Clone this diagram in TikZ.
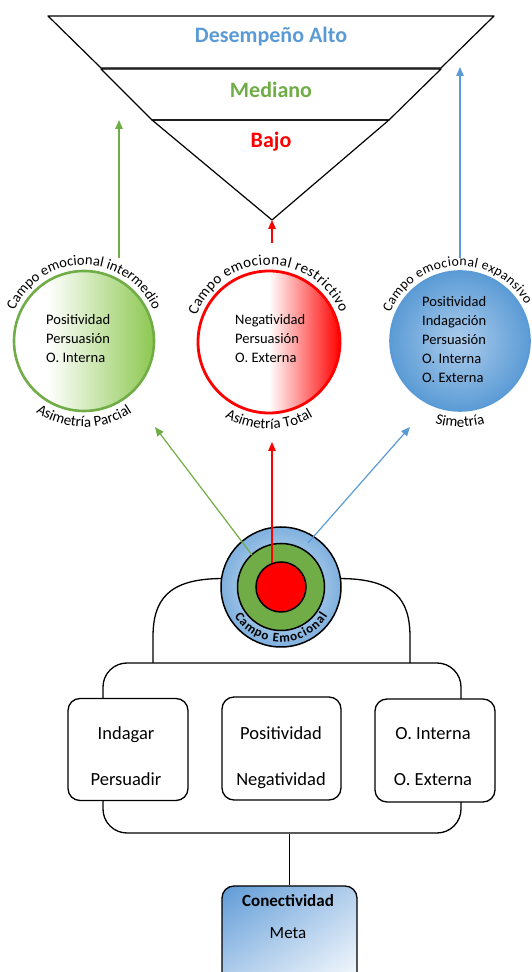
\documentclass[tikz,border=0pt]{standalone}
\usepackage{fontspec}
\setmainfont{Carlito}
\usetikzlibrary{arrows.meta,decorations.text,shadings}
\definecolor{blueM}{HTML}{5B9BD5}
\definecolor{blueL}{HTML}{ADCDEC}
\definecolor{grn}{HTML}{70AD47}
\definecolor{grnR}{HTML}{8CC850}
\definecolor{redR}{HTML}{FF0000}
\definecolor{ringIn}{HTML}{DCEBF8}
\definecolor{ringOut}{HTML}{7FB0DE}
\definecolor{connUL}{HTML}{5E9AD6}
\definecolor{connUR}{HTML}{B3CFEC}
\definecolor{connLL}{HTML}{BCD5F0}
\definecolor{connLR}{HTML}{FFFFFF}
\pgfdeclarehorizontalshading{greenfade}{100bp}{color(0bp)=(white); color(37bp)=(white); color(75bp)=(grnR); color(100bp)=(grnR)}
\pgfdeclarehorizontalshading{redfade}{100bp}{color(0bp)=(white); color(50bp)=(white); color(75bp)=(redR); color(100bp)=(redR)}
\begin{document}
\begin{tikzpicture}[x=1pt,y=1pt,
  fun/.style={draw=black,line width=1.2pt,line join=round},
  lvl/.style={font=\fontsize{22}{26}\selectfont\bfseries,anchor=base,inner sep=0pt},
  ctxt/.style={anchor=west,align=left,inner sep=0pt,font=\fontsize{14.5}{19}\selectfont},
  boxn/.style={draw=black,line width=1.3pt,rounded corners=12pt,fill=white,minimum width=120pt,minimum height=102pt,inner sep=0pt},
  btxt/.style={anchor=base,inner sep=0pt,font=\fontsize{18.5}{22}\selectfont},
  arr/.style={line width=1.2pt,-{Triangle[width=7.5pt,length=9pt]}},
  toptext/.style={decorate,decoration={text along path,text align={fit to path},text={#1}}},
  bottext/.style={decorate,decoration={text along path,text align=center,text={#1}}},
  conn/.style={line width=1.3pt,draw=black}
]
\useasboundingbox (0,0) rectangle (532,972);
\clip (0,0) rectangle (532,972);

% funnel
\draw[fun] (48,956) -- (494,956) -- (441,904) -- (101,904) -- cycle;
\draw[fun] (101,903) -- (441,903) -- (389,852) -- (152,852) -- cycle;
\draw[fun] (152,852) -- (389,852) -- (272,752) -- cycle;
\coordinate (apex) at (272,752);
\node[lvl,text=blueM] (alto) at (271,929) {Desempeño Alto};
\node[lvl,text=grn] (med) at (271,874) {Mediano};
\node[lvl,text=redR] (bajo) at (271,824) {Bajo};

% three circles
\node[circle,minimum size=140pt,line width=2.6pt,draw=grn,shade,shading=greenfade] (gc) at (84,631) {};
\node[circle,minimum size=142pt,line width=2.8pt,draw=redR,shade,shading=redfade] (rc) at (269,630) {};
\node[circle,minimum size=140pt,line width=1.6pt,draw=blueM,inner color=blueL,outer color=blueM] (bc) at (460,631) {};

\node[ctxt] (gtx) at (46,633.5) {Positividad\\Persuasión\\O. Interna};
\node[ctxt] (rtx) at (235,633.5) {Negatividad\\Persuasión\\O. Externa};
\node[ctxt] (btx) at (422,632) {Positividad\\Indagación\\Persuasión\\O. Interna\\O. Externa};

\path[toptext={|\fontsize{14.5}{18}\selectfont|Campo emocional intermedio}] ([shift={(156:76)}]gc.center) arc[start angle=156,end angle=24,radius=76];
\path[toptext={|\fontsize{15}{18}\selectfont|Campo emocional restrictivo}] ([shift={(160:77)}]rc.center) arc[start angle=160,end angle=22,radius=77];
\path[toptext={|\fontsize{13.8}{17}\selectfont|Campo emocional expansivo}] ([shift={(158:75)}]bc.center) arc[start angle=158,end angle=29,radius=75];

\path[bottext={|\fontsize{15}{18}\selectfont|Asimetría Parcial}] ([shift={(210:86)}]gc.center) arc[start angle=210,end angle=330,radius=86];
\path[bottext={|\fontsize{15}{18}\selectfont|Asimetría Total}] ([shift={(210:87)}]rc.center) arc[start angle=210,end angle=330,radius=87];
\path[bottext={|\fontsize{15}{18}\selectfont|Simetría}] ([shift={(230:86)}]bc.center) arc[start angle=230,end angle=310,radius=86];

% upper arrows
\coordinate (gup) at (119,714); \coordinate (gtip) at (119,852);
\coordinate (rup) at (272,729);
\coordinate (bup) at (460,714); \coordinate (btip) at (460,905);
\draw[arr,grn] (gup) -- (gtip);
\draw[arr,redR] (rup) -- (apex);
\draw[arr,blueM] (bup) -- (btip);

% frame and curves
\node[draw,line width=1.3pt,rounded corners=24pt,minimum width=358pt,minimum height=170pt] (frame) at (282,224) {};
\coordinate (lc) at (153,309); \coordinate (rcc) at (410,309);

% center target
\node[circle,minimum size=120pt,line width=1.5pt,draw=black,inner color=ringIn,outer color=ringOut] (cc) at (281,385) {};
\node[circle,minimum size=87pt,line width=1.5pt,draw=black,fill=grn] (cg) at (281,385) {};
\node[circle,minimum size=50pt,line width=1.5pt,draw=black,fill=redR] (cr) at (281,385) {};
\path[toptext={|\fontsize{13}{15}\selectfont\bfseries|Campo Emocional}] ([shift={(212:55)}]cc.center) arc[start angle=212,end angle=328,radius=55];

\draw[conn] (cc.172) .. controls (168,393) and (153,372) .. (153,335) -- (lc);
\draw[conn] (cc.8) .. controls (395,393) and (410,372) .. (410,335) -- (rcc);

% lower arrows
\coordinate (gt) at (252,417); \coordinate (gh) at (155,545);
\coordinate (rt) at (272,409); \coordinate (rh) at (272,530);
\coordinate (bt) at (308,429); \coordinate (bh) at (410,545);
\draw[arr,grn] (gt) -- (gh);
\draw[arr,redR] (rt) -- (rh);
\draw[arr,blueM] (bt) -- (bh);

% boxes
\node[boxn] (b1) at (128,222.5) {};
\node[boxn,minimum width=119pt,minimum height=103pt] (b2) at (281.5,223.5) {};
\node[boxn,minimum height=103pt] (b3) at (435,221.5) {};
\node[btxt] (t1a) at (126,232) {Indagar};
\node[btxt] (t1b) at (126,186) {Persuadir};
\node[btxt] (t2a) at (281,232) {Positividad};
\node[btxt] (t2b) at (281,186) {Negatividad};
\node[btxt] (t3a) at (433,232) {O. Interna};
\node[btxt] (t3b) at (433,186) {O. Externa};

% conectividad
\node[draw,line width=1.3pt,rounded corners=12pt,minimum width=135pt,minimum height=106pt,upper left=connUL,upper right=connUR,lower left=connLL,lower right=connLR] (cn) at (289.5,33) {};
\draw[conn] (cn.north) -- (cn.north |- frame.south);
\node[anchor=base,inner sep=0pt,font=\fontsize{17}{20}\selectfont\bfseries] (cn1) at (288,65) {Conectividad};
\node[anchor=base,inner sep=0pt,font=\fontsize{17}{20}\selectfont] (cn2) at (288,34) {Meta};
\end{tikzpicture}
\end{document}
